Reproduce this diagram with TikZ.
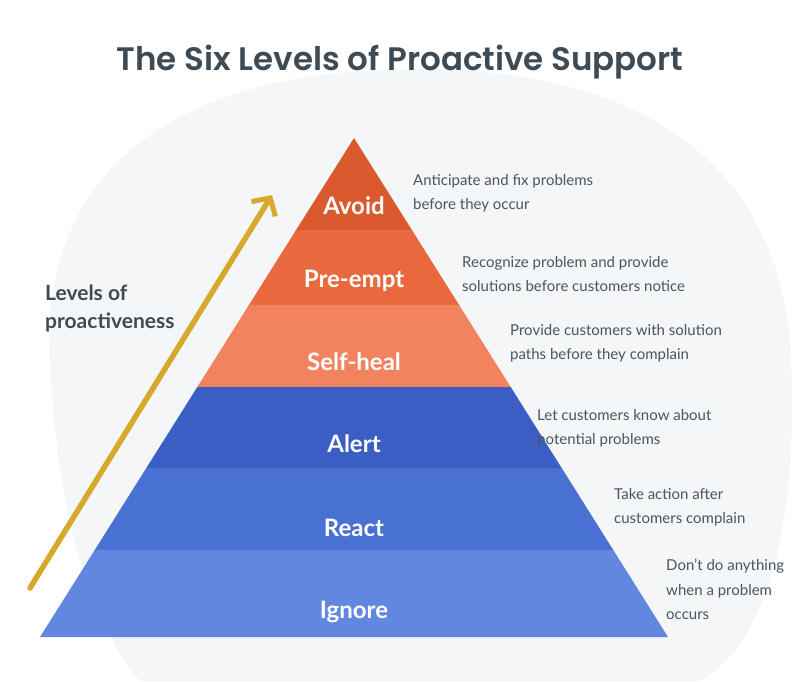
\documentclass[tikz,border=0pt]{standalone}
\usepackage{fontspec}
\setmainfont{Lato}
\newfontfamily\titlefont{Poppins SemiBold}
\usetikzlibrary{arrows.meta}
\definecolor{cavoid}{HTML}{D95A2E}
\definecolor{cpre}{HTML}{E9693F}
\definecolor{cself}{HTML}{F2835F}
\definecolor{calert}{HTML}{3A5EC3}
\definecolor{creact}{HTML}{4971D3}
\definecolor{cignore}{HTML}{6287E0}
\definecolor{ctitle}{HTML}{3E4B55}
\definecolor{cdesc}{HTML}{4A5560}
\definecolor{cgold}{HTML}{D6A92C}
\definecolor{cblob}{HTML}{F4F6F8}
\tikzset{
  lvl/.style={text=white,font=\bfseries\fontsize{24}{28}\selectfont},
  desc/.style={text=cdesc,anchor=north west,align=left,inner sep=0pt,font=\fontsize{15}{24.5}\selectfont}
}
\begin{document}
\begin{tikzpicture}[x=1pt,y=-1pt]
\useasboundingbox (0,0) rectangle (800,681);
\fill[white] (0,0) rectangle (800,681);
\fill[cblob] (50,360) .. controls (40,190) and (150,80) .. (380,70)
  .. controls (610,60) and (770,140) .. (790,340)
  .. controls (800,520) and (770,640) .. (700,681)
  -- (140,681) .. controls (80,610) and (55,480) .. (50,360) -- cycle;
\node[text=ctitle,font=\titlefont\fontsize{32.5}{36}\selectfont] (title) at (400,62) {The Six Levels of Proactive Support};
\begin{scope}
\clip (354,138) -- (668,637) -- (40,637) -- cycle;
\fill[cavoid] (0,130) rectangle (800,231);
\fill[cpre] (0,230) rectangle (800,306);
\fill[cself] (0,305) rectangle (800,388);
\fill[calert] (0,387) rectangle (800,469);
\fill[creact] (0,468) rectangle (800,551);
\fill[cignore] (0,550) rectangle (800,640);
\end{scope}
\node[lvl] (avoid) at (354,206) {Avoid};
\node[lvl] (pre) at (354,281) {Pre-empt};
\node[lvl] (self) at (354,362) {Self-heal};
\node[lvl] (alert) at (354,444) {Alert};
\node[lvl] (react) at (354,528) {React};
\node[lvl] (ignore) at (354,612) {Ignore};
\node[desc] (d1) at (413,174) {Anticipate and fix problems\\before they occur};
\node[desc] (d2) at (462,256) {Recognize problem and provide\\solutions before customers notice};
\node[desc] (d3) at (510,324) {Provide customers with solution\\paths before they complain};
\node[desc] (d4) at (537,409) {Let customers know about\\potential problems};
\node[desc] (d5) at (614,488) {Take action after\\customers complain};
\node[desc] (d6) at (666,559) {Don’t do anything\\when a problem\\occurs};
\node[text=ctitle,anchor=north west,align=left,inner sep=0pt,font=\bfseries\fontsize{21}{28}\selectfont] (lv) at (45,285) {Levels of\\proactiveness};
\coordinate (a0) at (30,588);
\coordinate (a1) at (272,195);
\draw[cgold,line width=5.5pt,line cap=round,-{Straight Barb[length=13pt,width=28pt,line width=5pt]}] (a0) -- (a1);
\end{tikzpicture}
\end{document}
